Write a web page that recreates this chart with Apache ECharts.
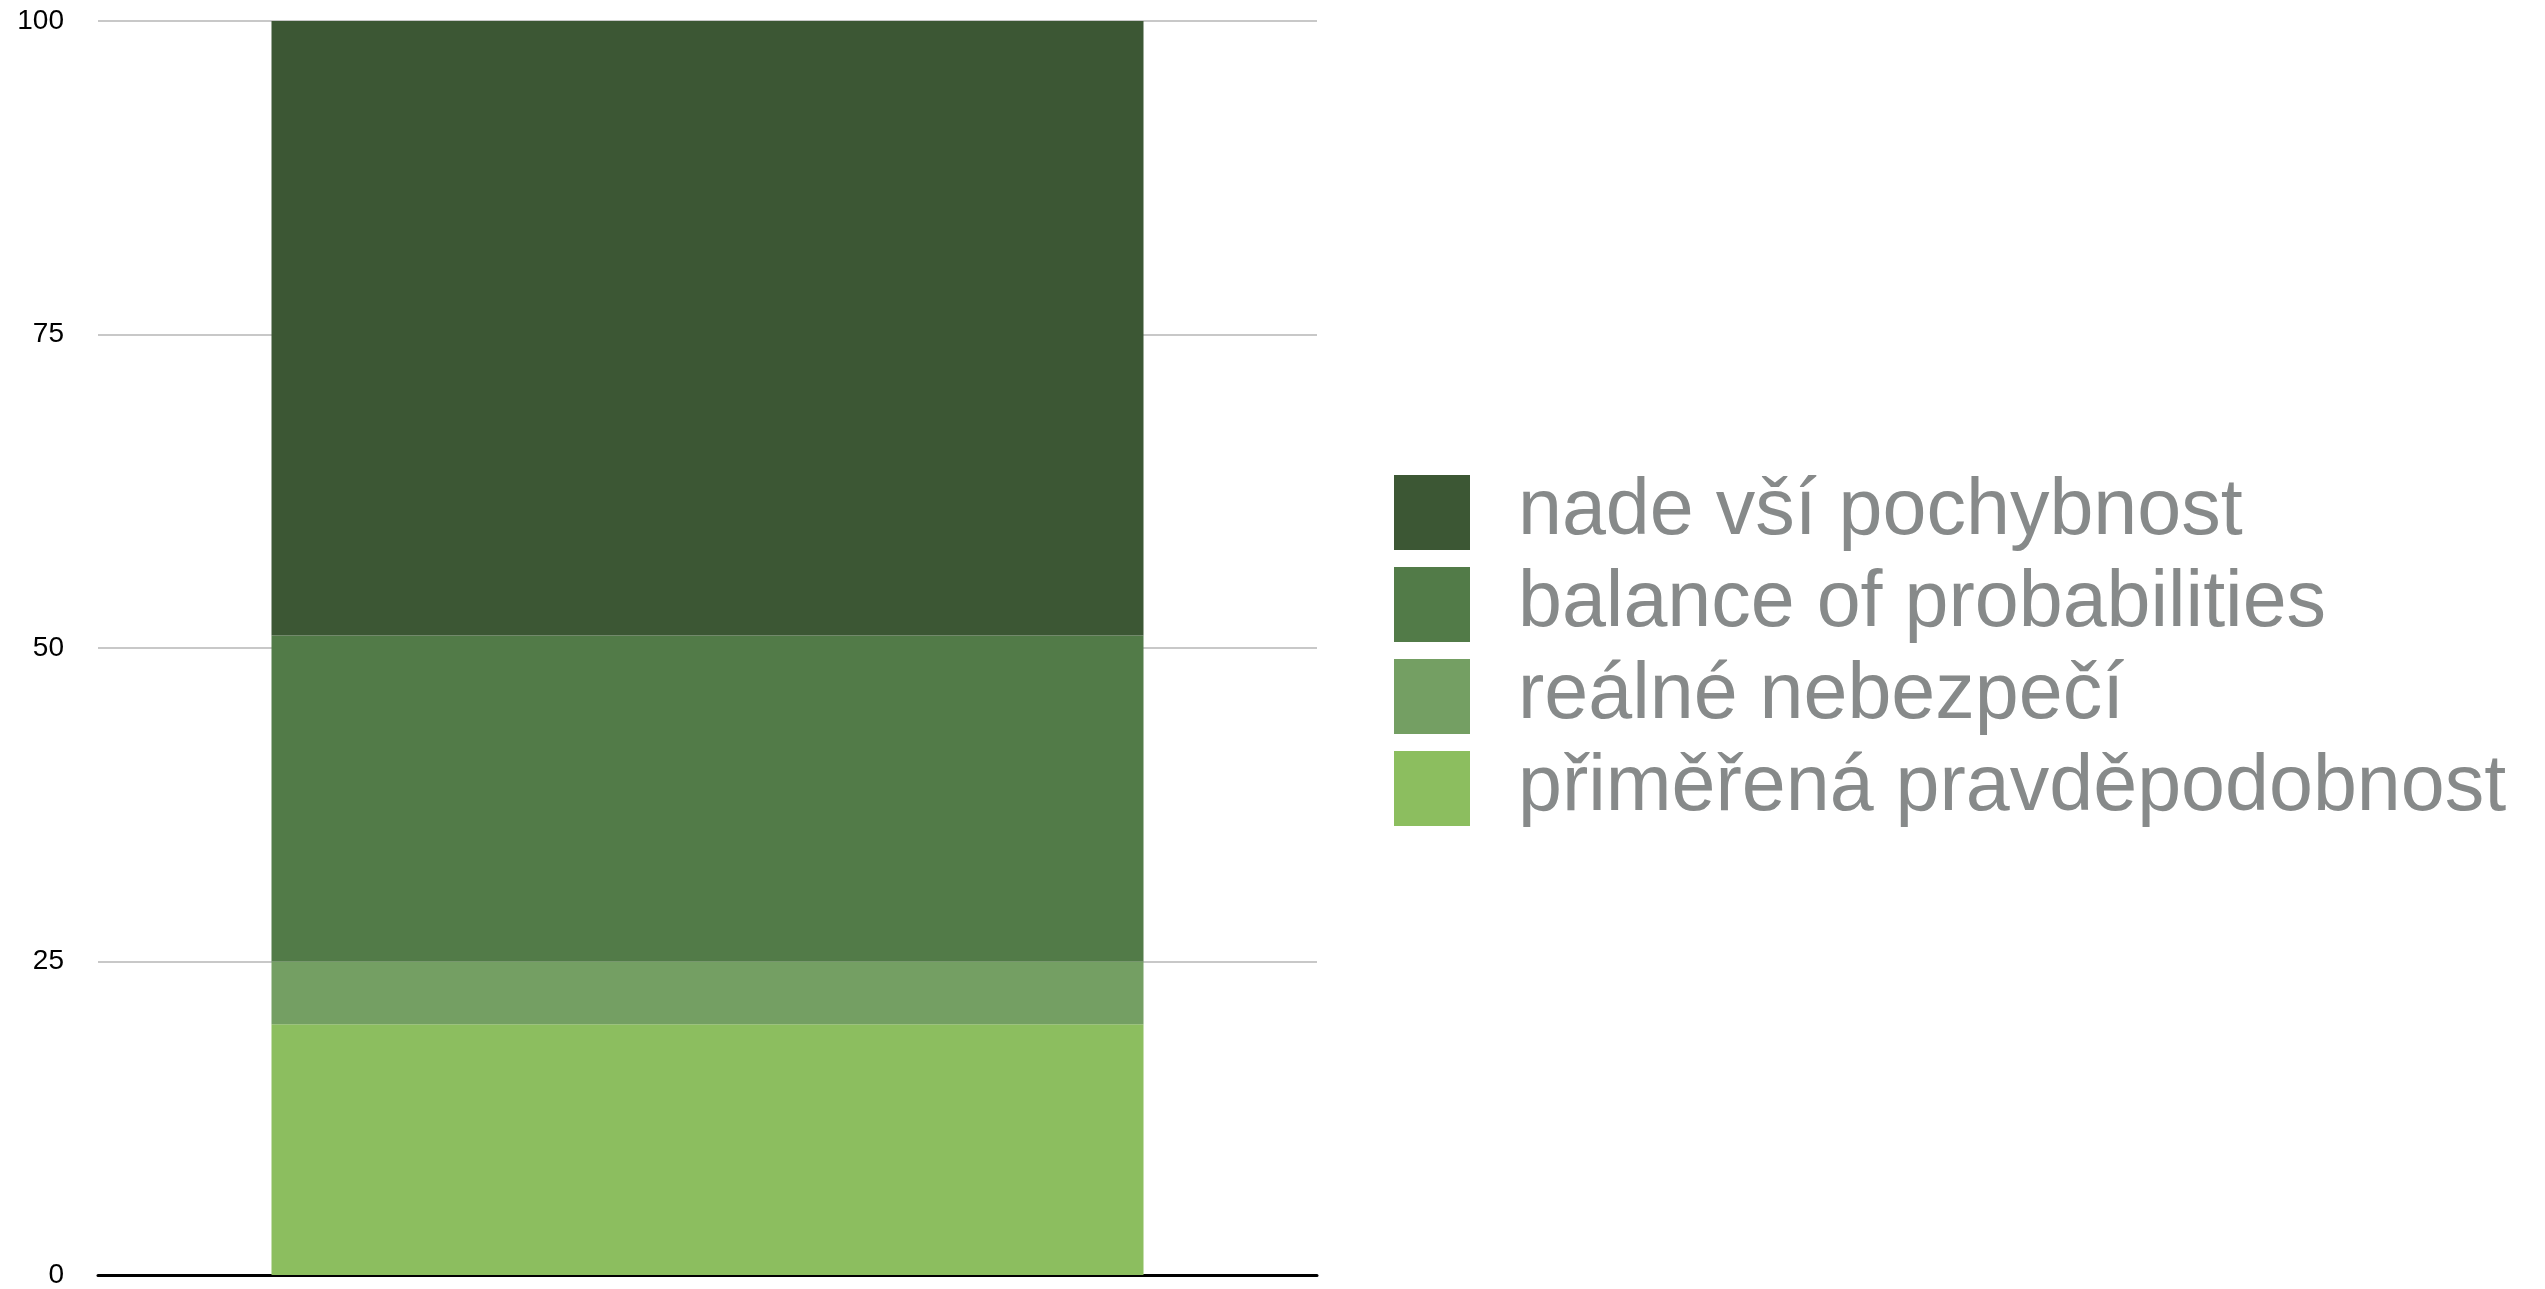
<!DOCTYPE html>
<html>
<head>
<meta charset="utf-8">
<script src="https://cdn.jsdelivr.net/npm/echarts@6/dist/echarts.min.js"></script>
<style>
html,body{margin:0;padding:0;background:#fff;}
#chart{width:2545px;height:1289px;}
</style>
</head>
<body>
<div id="chart"></div>
<script>
// Data (bottom to top of stack)
const categories = [''];
const seriesNames = ['přiměřená pravděpodobnost', 'reálné nebezpečí', 'balance of probabilities', 'nade vší pochybnost'];
const seriesValues = [[20], [5], [26], [49]];
const seriesColors = ['#8cbe5f', '#749f63', '#527b48', '#3c5734'];
const legendOrder = ['nade vší pochybnost', 'balance of probabilities', 'reálné nebezpečí', 'přiměřená pravděpodobnost'];
const yTicks = [0, 25, 50, 75, 100];

const chart = echarts.init(document.getElementById('chart'));
const series = seriesNames.map((name, i) => ({
  name: name,
  type: 'bar',
  stack: 'total',
  data: seriesValues[i],
  barWidth: 872,
  itemStyle: { color: seriesColors[i] },
  emphasis: { disabled: true }
}));

chart.setOption({
  animation: false,
  backgroundColor: '#fff',
  grid: { left: 98, right: 2545 - 1317, top: 21, bottom: 1289 - 1278, containLabel: false },
  legend: {
    data: legendOrder,
    orient: 'vertical',
    left: 1394,
    top: 473,
    padding: 0,
    itemWidth: 76,
    itemHeight: 75,
    itemGap: 13,
    icon: 'rect',
    selectedMode: false,
    textStyle: {
      fontFamily: '"Liberation Sans", Arial, Helvetica, sans-serif',
      fontSize: 79,
      color: '#878a8a',
      padding: [0, 0, 24, 43]
    }
  },
  xAxis: {
    type: 'category',
    data: categories,
    axisLine: { show: true, lineStyle: { color: '#000', width: 3 } },
    axisTick: { show: false },
    axisLabel: { show: false },
    splitLine: { show: false }
  },
  yAxis: {
    type: 'value',
    min: yTicks[0],
    max: yTicks[yTicks.length - 1],
    interval: 25,
    axisLine: { show: false },
    axisTick: { show: false },
    axisLabel: {
      fontFamily: '"Liberation Sans", Arial, Helvetica, sans-serif',
      fontSize: 28,
      color: '#000',
      margin: 34
    },
    splitLine: { show: true, lineStyle: { color: '#c8c8c8', width: 2 } }
  },
  series: series
});
</script>
</body>
</html>
